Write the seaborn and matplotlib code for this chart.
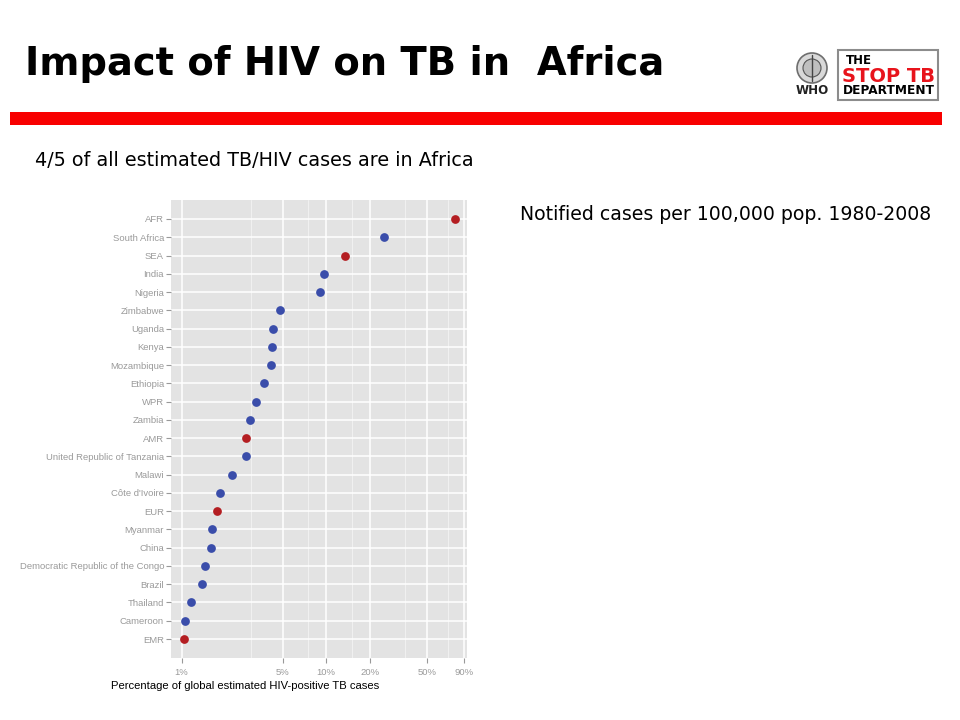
import matplotlib
matplotlib.use("Agg")
import matplotlib.pyplot as plt
import seaborn as sns
import pandas as pd
from matplotlib.patches import Rectangle, Circle
from matplotlib.ticker import FixedLocator, NullFormatter, FixedFormatter

# ---------------- data ----------------
categories = ["AFR", "South Africa", "SEA", "India", "Nigeria", "Zimbabwe",
              "Uganda", "Kenya", "Mozambique", "Ethiopia", "WPR", "Zambia",
              "AMR", "United Republic of Tanzania", "Malawi", "Côte d'Ivoire",
              "EUR", "Myanmar", "China", "Democratic Republic of the Congo",
              "Brazil", "Thailand", "Cameroon", "EMR"]
percent = [78.0, 25.0, 13.5, 9.7, 9.1, 4.77, 4.29, 4.2, 4.13, 3.69, 3.25, 2.96,
           2.79, 2.78, 2.23, 1.83, 1.75, 1.63, 1.59, 1.45, 1.38, 1.17, 1.05, 1.04]
group = ["region", "country", "region", "country", "country", "country",
         "country", "country", "country", "country", "country", "country",
         "region", "country", "country", "country", "region", "country",
         "country", "country", "country", "country", "country", "region"]
x_major = [1, 5, 10, 20, 50, 90]
x_major_labels = ["1%", "5%", "10%", "20%", "50%", "90%"]
x_minor = [3, 7.5, 15, 35, 70]

df = pd.DataFrame({"country": categories, "percent": percent, "group": group})

W, H = 960, 720
sns.set_theme(style="darkgrid")
plt.rcParams["font.family"] = ["Liberation Sans", "DejaVu Sans"]

fig = plt.figure(figsize=(W / 100, H / 100), dpi=100)
fig.patch.set_facecolor("white")

# overlay in pixel coordinates
ov = fig.add_axes([0, 0, 1, 1], zorder=0)
ov.set_xlim(0, W)
ov.set_ylim(H, 0)
ov.axis("off")

# main panel
pl, pr, pt, pb = 171, 467, 200, 658
ax = fig.add_axes([pl / W, 1 - pb / H, (pr - pl) / W, (pb - pt) / H], zorder=2)
sns.stripplot(data=df, x="percent", y="country", hue="group", order=categories,
              palette={"region": "#B41E22", "country": "#3A4DAA"},
              jitter=False, size=6.3, linewidth=0, legend=False, ax=ax, zorder=3)
ax.set_xscale("log")
ax.set_xlim(0.845, 94)
ax.set_ylim(len(categories) - 1 + 1.04, -1.04)
ax.set_facecolor("#E3E3E3")
for s in ax.spines.values():
    s.set_visible(False)
ax.xaxis.set_major_locator(FixedLocator(x_major))
ax.xaxis.set_major_formatter(FixedFormatter(x_major_labels))
ax.xaxis.set_minor_locator(FixedLocator(x_minor))
ax.xaxis.set_minor_formatter(NullFormatter())
ax.grid(which="major", color="white", linewidth=1.1)
ax.grid(which="minor", axis="x", color="#F0F0F0", linewidth=0.8)
ax.set_axisbelow(True)
ax.tick_params(axis="both", which="major", length=3.5, width=0.8, color="#999999",
               labelcolor="#9a9a9a", labelsize=6.8, pad=1.5,
               bottom=True, left=True)
ax.tick_params(axis="x", which="major", pad=3.5)
ax.tick_params(axis="x", which="minor", length=0)
ax.set_xlabel("")
ax.set_ylabel("")

renderer = fig.canvas.get_renderer()


def fit_text(x, y, s, width, size0=20, **kw):
    t = ov.text(x, y, s, fontsize=size0, **kw)
    w = t.get_window_extent(renderer=renderer).width
    t.set_fontsize(size0 * width / w)
    return t


# x axis title
fit_text(245, 686, "Percentage of global estimated HIV-positive TB cases", 269,
         size0=8, ha="center", va="center", color="black")

# title
fit_text(25, 64, "Impact of HIV on TB in  Africa", 640, size0=30,
         ha="left", va="center", fontweight="bold", color="black",
         family=["DejaVu Sans"])

# red bar
ov.add_patch(Rectangle((10, 112), 932, 13, facecolor="#F80000", edgecolor="none"))

# subtitle texts
fit_text(35, 161, "4/5 of all estimated TB/HIV cases are in Africa", 436, size0=12,
         ha="left", va="center", color="black", family=["DejaVu Sans"])
fit_text(520, 214, "Notified cases per 100,000 pop. 1980-2008", 409, size0=12,
         ha="left", va="center", color="black", family=["DejaVu Sans"])

# WHO emblem (simplified)
ov.add_patch(Circle((812, 68), 15, facecolor="#D9D9D9", edgecolor="#6E6E6E", linewidth=1.2))
ov.add_patch(Circle((812, 68), 9, facecolor="#BFBFBF", edgecolor="#555555", linewidth=0.8))
ov.plot([812, 812], [55, 81], color="#444444", linewidth=1.0)
fit_text(812, 91, "WHO", 33, size0=10, ha="center", va="center",
         fontweight="bold", color="#222222", family=["DejaVu Sans"])

# Stop TB box
ov.add_patch(Rectangle((838, 50), 100, 50, facecolor="white", edgecolor="#8C8C8C", linewidth=1.5))
fit_text(846, 60, "THE", 26, size0=10, ha="left", va="center",
         fontweight="bold", color="black", family=["DejaVu Sans"])
fit_text(842, 76, "STOP TB", 93, size0=14, ha="left", va="center",
         fontweight="bold", color="#E8141C", family=["DejaVu Sans"])
fit_text(843, 91, "DEPARTMENT", 92, size0=10, ha="left", va="center",
         fontweight="bold", color="black", family=["DejaVu Sans"])

fig.savefig("out.png", dpi=100, facecolor="white")
